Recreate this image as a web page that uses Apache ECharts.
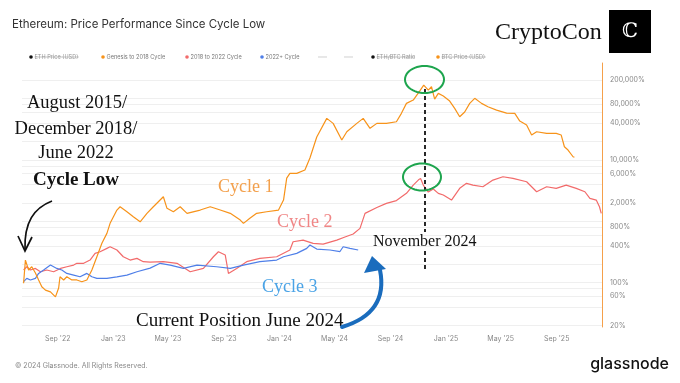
<!DOCTYPE html>
<html><head><meta charset="utf-8">
<script src="https://cdn.jsdelivr.net/npm/echarts@6/dist/echarts.min.js"></script>
<style>html,body{margin:0;padding:0;background:#fff}#c{width:680px;height:383px}</style>
</head><body><div id="c"></div>
<script>
// ---- data ----
const cycleLowDate = '2022-06-18';
const seriesNames = ['Genesis to 2018 Cycle', '2018 to 2022 Cycle', '2022+ Cycle'];
const cycle1Days = [0,4,11,18,26,33,40,48,59,70,77,80,88,95,106,117,128,139,150,161,172,183,190,205,212,227,241,256,271,285,307,315,329,344,359,388,410,432,454,476,483,497,512,534,560,571,578,585,600,618,629,644,666,680,699,710,732,746,761,776,797,819,830,841,856,870,879,889,896,903,911,922,936,947,958,969,980,991,1006,1020,1039,1061,1079,1090,1105,1116,1127,1149,1170,1181,1188,1196,1207,1210];
const cycle1Pct = [98,234,161,182,144,111,86,76,71,59,82,125,111,125,111,111,104,111,161,265,438,636,926,1524,1724,1430,1186,983,1347,1724,2509,1625,1430,1724,1347,1524,1724,1524,1347,1048,926,1117,1347,1430,1524,2216,5054,6030,6030,6820,10700,23490,47300,39240,21000,28640,39240,47300,32540,39240,39240,41670,57090,83000,93980,131600,164800,136600,154700,97560,120800,109100,90500,68850,50250,59930,83000,100150,83000,73100,64580,57730,57090,42780,36820,25320,28640,26980,26980,25320,16330,14430,11230,11000];
const cycle2Days = [0,7,15,26,37,51,66,81,95,110,117,132,146,157,168,183,190,205,219,234,249,263,278,307,337,366,395,417,428,443,450,468,490,519,556,585,592,614,636,658,688,706,724,739,750,776,797,819,841,856,867,872,878,889,900,911,922,940,958,973,987,1009,1031,1053,1075,1105,1127,1149,1170,1192,1214,1233,1244,1258,1265,1269];
const cycle2Pct = [161,182,161,171,151,161,151,171,182,194,207,207,234,301,320,363,385,341,265,234,249,220,217,220,207,151,171,265,320,282,142,171,220,249,265,341,465,495,438,426,495,554,620,768,1347,1673,1959,2175,2849,3888,4689,4997,3888,2992,3347,2849,2674,2216,3437,4144,3888,3648,4689,5307,4997,4399,3025,3648,3437,3888,3437,3025,2362,2216,1724,1347];
const cycle3Days = [0,7,15,26,33,44,59,73,84,95,110,124,139,150,161,183,205,227,249,278,300,322,351,381,424,454,483,519,556,571,600,622,629,644,673,695,702,717,735];
const cycle3Pct = [104,118,111,118,142,161,194,171,161,142,133,125,142,125,118,118,125,133,151,173,207,194,171,194,182,171,194,220,234,265,301,363,411,353,341,322,385,363,341];
const xTickLabels = ['2022-09-01','2023-01-01','2023-05-01','2023-09-01','2024-01-01','2024-05-01','2024-09-01','2025-01-01','2025-05-01','2025-09-01'];
const yTickLabels = [20,60,100,400,800,2000,6000,10000,40000,80000,200000];
const yGridValues = [20,40,60,80,100,200,400,600,800,1000,2000,4000,6000,8000,10000,20000,40000,60000,80000,100000,200000];

// ---- build ----
const DAY = 86400000;
function toTs(s){const p=s.split('-').map(Number);return new Date(p[0],p[1]-1,p[2]).getTime();}
const t0 = toTs(cycleLowDate);
function build(days, vals){return days.map((d,i)=>[t0 + d*DAY, vals[i]]);}
const MONTHS=['Jan','Feb','Mar','Apr','May','Jun','Jul','Aug','Sep','Oct','Nov','Dec'];
const colors = ['#f7931a', '#f26b6b', '#4f7fe8'];

const SERIF = '"Liberation Serif", "DejaVu Serif", serif';
const SANS = 'Inter, Roboto, sans-serif';
function T(text, x, y, size, fill, opts){
  opts = opts || {};
  return {type:'text', x:x, y:y, silent:true, z:100, style:{text:text, fill:fill,
    font:(opts.weight||'normal')+' '+size+'px '+(opts.family||SERIF),
    align:opts.align||'left', verticalAlign:'middle'}};
}
function ring(cx, cy, rx, ry){
  const pts=[];
  for(let i=0;i<48;i++){const a=i/48*Math.PI*2;pts.push([cx+rx*Math.cos(a), cy+ry*Math.sin(a)]);}
  return {type:'polygon', silent:true, z:100, shape:{points:pts}, style:{stroke:'#1ea54e', lineWidth:2, fill:null}};
}
const legendItems = [
  {name:'ETH Price (USD)', dot:'#111', x:31, off:true},
  {name:seriesNames[0], dot:colors[0], x:103},
  {name:seriesNames[1], dot:colors[1], x:187},
  {name:seriesNames[2], dot:colors[2], x:262},
  {name:'ETH/BTC Ratio', dot:'#111', x:373, off:true},
  {name:'BTC Price (USD)', dot:'#f7931a', x:438, off:true}
];
const LY = 57;
const graphics = [];
graphics.push(T('Ethereum: Price Performance Since Cycle Low', 12, 25, 11.5, '#333', {family:SANS}));
legendItems.forEach(it=>{
  graphics.push({type:'circle', silent:true, shape:{cx:it.x, cy:LY, r:1.8}, style:{fill:it.dot}});
  graphics.push(T(it.name, it.x+3.5, LY, 5.6, it.off?'#9a9a9a':'#777', {family:SANS}));
  if (it.off){
    const w = it.name.length*2.95;
    graphics.push({type:'line', silent:true, shape:{x1:it.x+3.5, y1:LY, x2:it.x+3.5+w, y2:LY}, style:{stroke:'#9a9a9a', lineWidth:0.6}});
  }
});
[318,344].forEach(x=>{
  graphics.push({type:'line', silent:true, shape:{x1:x, y1:LY, x2:x+9, y2:LY}, style:{stroke:'#bbb', lineWidth:0.7}});
});
graphics.push(T('CryptoCon', 495, 33, 24, '#111'));
graphics.push({type:'rect', silent:true, shape:{x:609, y:10, width:42, height:43}, style:{fill:'#000'}});
graphics.push(T('\u2102', 630, 32, 20, '#fff', {align:'center', family:'"DejaVu Serif", serif'}));

graphics.push(T('August 2015/', 77, 103.5, 18.5, '#111', {align:'center'}));
graphics.push(T('December 2018/', 76, 129, 18.5, '#111', {align:'center'}));
graphics.push(T('June 2022', 76, 153.5, 18.5, '#111', {align:'center'}));
graphics.push(T('Cycle Low', 76, 180, 19, '#111', {align:'center', weight:'bold'}));
graphics.push({type:'bezierCurve', silent:true, z:100, shape:{x1:52, y1:201, cpx1:34, cpy1:208, cpx2:24, cpy2:222, x2:25, y2:250}, style:{stroke:'#111', lineWidth:1.7, fill:null}});
graphics.push({type:'polyline', silent:true, z:100, shape:{points:[[18,236],[25,251],[32,237]]}, style:{stroke:'#111', lineWidth:1.7, fill:null}});

graphics.push(T('Cycle 1', 218, 187, 18, '#f3a04c'));
graphics.push(T('Cycle 2', 277, 222.5, 18, '#f08686'));
graphics.push(T('Cycle 3', 262, 287, 18, '#4aa3e6'));
graphics.push(T('November 2024', 373, 242, 16, '#111'));
graphics.push(T('Current Position June 2024', 136, 321.5, 19, '#111'));

graphics.push({type:'line', silent:true, z:100, shape:{x1:425, y1:89, x2:425, y2:232}, style:{stroke:'#111', lineWidth:1.8, lineDash:[4,3]}});
graphics.push({type:'line', silent:true, z:100, shape:{x1:425, y1:251, x2:425, y2:270}, style:{stroke:'#111', lineWidth:1.8, lineDash:[4,3]}});
graphics.push(ring(424.5, 79.5, 19.5, 13.5));
graphics.push(ring(422, 177, 19, 13.5));

graphics.push({type:'bezierCurve', silent:true, z:100, shape:{x1:342, y1:327, cpx1:372, cpy1:318, cpx2:386, cpy2:300, x2:380, y2:270}, style:{stroke:'#1a6cbd', lineWidth:4, fill:null, lineCap:'round'}});
graphics.push({type:'polygon', silent:true, z:100, shape:{points:[[364,273],[372,256],[386,269]]}, style:{fill:'#1a6cbd'}});

graphics.push(T('\u00a9 2024 Glassnode. All Rights Reserved.', 15, 366, 7, '#888', {family:SANS}));
graphics.push(T('glassnode', 669, 364, 16, '#111', {family:SANS, align:'right', weight:'500'}));

const chart = echarts.init(document.getElementById('c'), null, {renderer:'canvas'});
chart.setOption({
  animation:false,
  backgroundColor:'#fff',
  grid:{left:22, right:78, top:63, bottom:56},
  xAxis:{
    type:'value',
    min:t0 - 3.5*DAY, max:t0 + 1270.6*DAY,
    axisLine:{show:false}, axisTick:{show:false}, splitLine:{show:false},
    axisLabel:{customValues:xTickLabels.map(toTs), color:'#888', fontSize:7, fontFamily:SANS, margin:8,
      formatter:function(v){const d=new Date(v);return MONTHS[d.getMonth()]+" '"+String(d.getFullYear()).slice(2);}}
  },
  yAxis:{
    type:'log', logBase:10, position:'right', min:19.05, max:376700,
    axisLine:{show:true, lineStyle:{color:'#f5a04a', width:1}},
    axisTick:{show:false, customValues:yGridValues},
    splitLine:{show:true, lineStyle:{color:'#efefef', width:1}},
    axisLabel:{customValues:yTickLabels, color:'#888', fontSize:7, fontFamily:SANS, margin:8, align:'left',
      formatter:function(v){return Math.round(v).toLocaleString('en-US')+'%';}}
  },
  series:[
    {name:seriesNames[1], type:'line', data:build(cycle2Days, cycle2Pct), showSymbol:false, lineStyle:{width:1.2, color:colors[1]}, itemStyle:{color:colors[1]}, z:3},
    {name:seriesNames[2], type:'line', data:build(cycle3Days, cycle3Pct), showSymbol:false, lineStyle:{width:1.2, color:colors[2]}, itemStyle:{color:colors[2]}, z:4},
    {name:seriesNames[0], type:'line', data:build(cycle1Days, cycle1Pct), showSymbol:false, lineStyle:{width:1.2, color:colors[0]}, itemStyle:{color:colors[0]}, z:5}
  ],
  graphic:{elements:graphics}
});
</script>
</body></html>
